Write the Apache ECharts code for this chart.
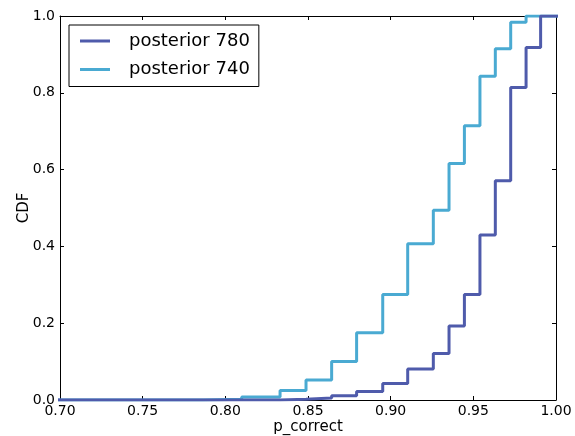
<!DOCTYPE html>
<html>
<head>
<meta charset="utf-8">
<script src="https://cdn.jsdelivr.net/npm/echarts@6/dist/echarts.min.js"></script>
<style>html,body{margin:0;padding:0;background:#fff}#c{width:575px;height:436px}</style>
</head>
<body>
<div id="c"></div>
<script>
var seriesNames = ['posterior 780', 'posterior 740'];
var x780 = [0.68, 0.8331, 0.8488, 0.8643, 0.8794, 0.8952, 0.9103, 0.9258, 0.9353, 0.9446, 0.9540, 0.9633, 0.9726, 0.9819, 0.9907, 1.02];
var y780 = [0.000, 0.002, 0.005, 0.011, 0.022, 0.043, 0.081, 0.121, 0.193, 0.275, 0.430, 0.571, 0.814, 0.918, 1.000, 1.000];
var x740 = [0.68, 0.7865, 0.8099, 0.8331, 0.8488, 0.8643, 0.8794, 0.8952, 0.9103, 0.9258, 0.9353, 0.9446, 0.9540, 0.9633, 0.9726, 0.9819, 1.02];
var y740 = [0.000, 0.002, 0.008, 0.025, 0.052, 0.100, 0.175, 0.275, 0.407, 0.494, 0.616, 0.714, 0.843, 0.915, 0.984, 1.000, 1.000];
var xTicks = [0.70, 0.75, 0.80, 0.85, 0.90, 0.95, 1.00];
var yTicks = [0.0, 0.2, 0.4, 0.6, 0.8, 1.0];

function pairs(xs, ys) { return xs.map(function (x, i) { return [x, ys[i]]; }); }
var colors = ['#4f5bab', '#4aaad2'];
var font = 'DejaVu Sans';
var chart = echarts.init(document.getElementById('c'), null, {renderer: 'canvas'});
var axisLine = {show: true, onZero: false, lineStyle: {color: '#000', width: 1}};
var tick = {show: true, inside: true, length: 4, lineStyle: {color: '#000'}};
chart.setOption({
  animation: false,
  grid: {left: 60, right: 19, top: 16, bottom: 36, containLabel: false, outerBoundsMode: 'none'},
  legend: {
    orient: 'vertical', left: 69, top: 25,
    data: seriesNames,
    borderColor: '#000', borderWidth: 1, borderRadius: 0,
    padding: [7, 9, 8, 11], itemGap: 10.5,
    itemWidth: 30, itemHeight: 3, icon: 'rect',
    textStyle: {fontFamily: font, fontSize: 18, color: '#000', padding: [0, 0, 0, 14]}
  },
  xAxis: [{
    type: 'value', min: 0.70, max: 1.00, interval: 0.05,
    axisLine: axisLine, axisTick: tick, splitLine: {show: false},
    axisLabel: {fontFamily: font, fontSize: 14, color: '#000', margin: 4,
      formatter: function (v) { return v.toFixed(2); }},
    name: 'p_correct', nameLocation: 'middle', nameGap: 20, nameMoveOverlap: false,
    nameTextStyle: {fontFamily: font, fontSize: 15, color: '#000'}
  }, {
    type: 'value', position: 'top', min: 0.70, max: 1.00, interval: 0.05,
    axisLine: axisLine, axisTick: tick, axisLabel: {show: false}, splitLine: {show: false}
  }],
  yAxis: [{
    type: 'value', min: 0, max: 1, interval: 0.2,
    axisLine: axisLine, axisTick: tick, splitLine: {show: false},
    axisLabel: {fontFamily: font, fontSize: 14, color: '#000', margin: 5,
      formatter: function (v) { return v.toFixed(1); }},
    name: 'CDF', nameLocation: 'middle', nameGap: 28, nameMoveOverlap: false,
    nameTextStyle: {fontFamily: font, fontSize: 15, color: '#000'}
  }, {
    type: 'value', position: 'right', min: 0, max: 1, interval: 0.2,
    axisLine: axisLine, axisTick: tick, axisLabel: {show: false}, splitLine: {show: false}
  }],
  series: [{
    name: seriesNames[0], type: 'line', step: 'end', showSymbol: false,
    data: pairs(x780, y780), color: colors[0], z: 3,
    lineStyle: {width: 3, color: colors[0]}, clip: true
  }, {
    name: seriesNames[1], type: 'line', step: 'end', showSymbol: false,
    data: pairs(x740, y740), color: colors[1], z: 2,
    lineStyle: {width: 3, color: colors[1]}, clip: true
  }]
});
</script>
</body>
</html>
